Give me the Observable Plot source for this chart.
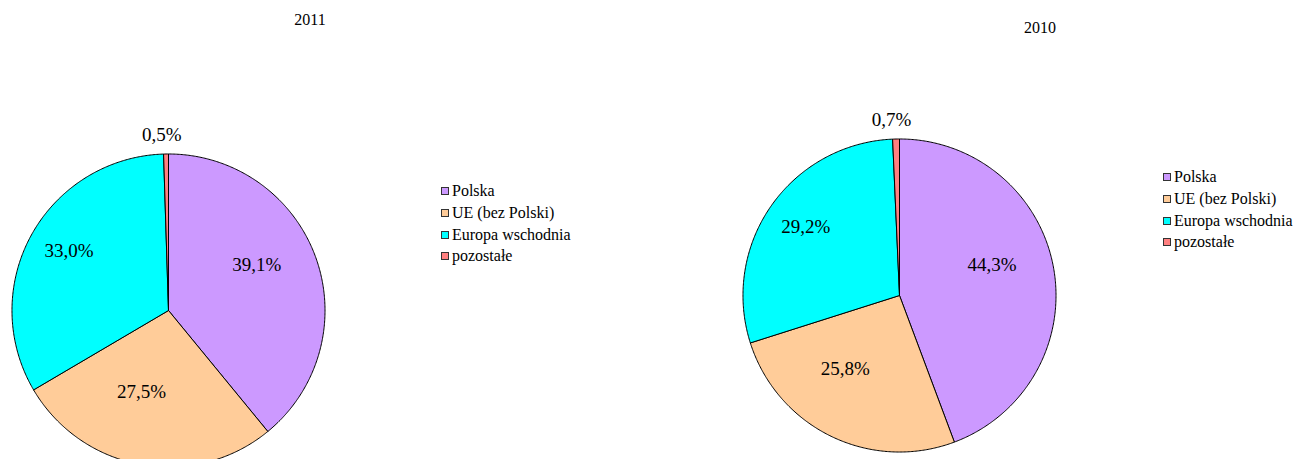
<!DOCTYPE html>
<html><head><meta charset="utf-8">
<script src="https://cdn.jsdelivr.net/npm/d3@7"></script>
<script src="https://cdn.jsdelivr.net/npm/@observablehq/plot@0.6"></script>
<style>
body{margin:0;background:#fff;font-family:"Liberation Serif","Times New Roman",serif;color:#000;}
#wrap{position:relative;width:1307px;height:459px;overflow:hidden;}
.title{position:absolute;font-family:"Liberation Serif","Times New Roman",serif;font-size:16px;line-height:16px;transform:translateX(-50%);white-space:nowrap;}
.legend{position:absolute;font-family:"Liberation Serif","Times New Roman",serif;font-size:16px;line-height:21.8px;white-space:nowrap;}
.legend .sw{display:inline-block;width:6px;height:6px;border:1px solid #333;margin-right:3px;vertical-align:1px;}
.pie{position:absolute;}
</style></head><body><div id="wrap"></div>
<script>
const categories = ["Polska", "UE (bez Polski)", "Europa wschodnia", "pozostałe"];
const colors = ["#CC99FF", "#FFCC99", "#00FFFF", "#FF8080"];
const years = ["2011", "2010"];
const values2011 = [39.1, 27.5, 33.0, 0.5];
const values2010 = [44.3, 25.8, 29.2, 0.7];

const layouts = [
  {values: values2011, cx: 168, cy: 310, titleX: 310, titleY: 20, legX: 441, legY: 180},
  {values: values2010, cx: 899, cy: 295, titleX: 1040, titleY: 28, legX: 1163, legY: 166}
];

const FONT = '"Liberation Serif","Times New Roman",serif';
const wrap = document.getElementById("wrap");
const SIZE = 360, EXT = 1.15;
const fmt = v => v.toFixed(1).replace(".", ",") + "%";

layouts.forEach((L, i) => {
  const total = d3.sum(L.values);
  const pie = d3.pie().sort(null).value(d => d)(L.values);
  const pts = [];
  const labels = [];
  pie.forEach((p, k) => {
    const cat = categories[k];
    pts.push({cat, x: 0, y: 0});
    const n = Math.max(2, Math.ceil((p.endAngle - p.startAngle) / (Math.PI / 360)));
    for (let j = 0; j <= n; j++) {
      const a = p.startAngle + (p.endAngle - p.startAngle) * j / n;
      pts.push({cat, x: Math.sin(a), y: Math.cos(a)});
    }
    pts.push({cat, x: 0, y: 0});
    const mid = (p.startAngle + p.endAngle) / 2;
    const share = p.value / total;
    const small = share < 0.05;
    const rx = small ? 1.12 : 0.66, ry = small ? 1.12 : 0.615;
    labels.push({x: Math.sin(mid) * rx, y: Math.cos(mid) * ry, text: fmt(p.value), small});
  });

  const chart = Plot.plot({
    width: SIZE, height: SIZE,
    margin: 0,
    x: {domain: [-EXT, EXT], axis: null},
    y: {domain: [-EXT, EXT], axis: null},
    color: {domain: categories, range: colors},
    style: {fontFamily: FONT, background: "transparent", overflow: "visible"},
    marks: [
      Plot.line(pts, {x: "x", y: "y", z: "cat", fill: "cat", stroke: "#000", strokeWidth: 1, curve: "linear", strokeLinejoin: "round"}),
      Plot.text(labels.filter(d => !d.small), {x: "x", y: "y", text: "text", fontSize: 19, fontFamily: FONT, fill: "#000", dx: -9, dy: -13}),
      Plot.text(labels.filter(d => d.small), {x: "x", y: "y", text: "text", fontSize: 19, fontFamily: FONT, fill: "#000", dx: -4})
    ]
  });
  chart.classList.add("pie");
  chart.style.left = (L.cx - SIZE / 2) + "px";
  chart.style.top = (L.cy - SIZE / 2) + "px";
  wrap.appendChild(chart);

  const t = document.createElement("div");
  t.className = "title";
  t.textContent = years[i];
  t.style.left = L.titleX + "px";
  t.style.top = (L.titleY - 8) + "px";
  wrap.appendChild(t);

  const leg = document.createElement("div");
  leg.className = "legend";
  leg.style.left = L.legX + "px";
  leg.style.top = L.legY + "px";
  categories.forEach((c, k) => {
    const row = document.createElement("div");
    const sw = document.createElement("span");
    sw.className = "sw";
    sw.style.background = colors[k];
    row.appendChild(sw);
    row.appendChild(document.createTextNode(c));
    leg.appendChild(row);
  });
  wrap.appendChild(leg);
});
</script>
</body></html>
